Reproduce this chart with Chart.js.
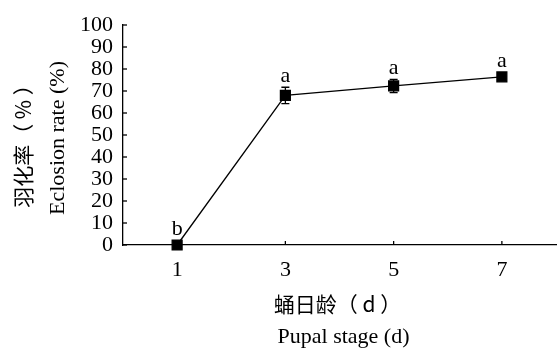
<!DOCTYPE html>
<html>
<head>
<meta charset="utf-8">
<script src="https://cdn.jsdelivr.net/npm/chart.js@4/dist/chart.umd.min.js"></script>
<style>
  html, body { margin: 0; padding: 0; background: #fff; }
  #wrap { width: 557px; height: 354px; }
</style>
</head>
<body>
<div id="wrap"><canvas id="eclosionChart"></canvas></div>
<script>
// Data
const stages = [1, 3, 5, 7];
const eclosionRate = [0, 68.0, 72.3, 76.4];
const errorRate = [0, 3.7, 3.0, 1.0];
const sigLetters = ['b', 'a', 'a', 'a'];
const yTicks = [0, 10, 20, 30, 40, 50, 60, 70, 80, 90, 100];

const serif = "'Liberation Serif', 'Times New Roman', serif";
const cjk = "'Noto Sans CJK SC', 'Liberation Serif', sans-serif";

// Error bars, letters, inward ticks and axis titles
const decorPlugin = {
    id: 'decor',
    afterDatasetsDraw(chart) {
        const ctx = chart.ctx;
        const xs = chart.scales.x;
        const ys = chart.scales.y;
        const area = chart.chartArea;
        ctx.save();
        ctx.strokeStyle = '#000';
        ctx.fillStyle = '#000';
        ctx.lineWidth = 1.3;

        // inward tick marks
        yTicks.forEach(v => {
            const py = ys.getPixelForValue(v);
            ctx.beginPath();
            ctx.moveTo(area.left, py);
            ctx.lineTo(area.left + 4, py);
            ctx.stroke();
        });
        stages.forEach(v => {
            const px = xs.getPixelForValue(v);
            ctx.beginPath();
            ctx.moveTo(px, area.bottom);
            ctx.lineTo(px, area.bottom - 4);
            ctx.stroke();
        });

        // error bars and significance letters
        stages.forEach((s, i) => {
            const px = xs.getPixelForValue(s);
            const pm = ys.getPixelForValue(eclosionRate[i]);
            const hi = ys.getPixelForValue(eclosionRate[i] + errorRate[i]);
            const lo = ys.getPixelForValue(Math.max(0, eclosionRate[i] - errorRate[i]));
            if (errorRate[i] > 0) {
                ctx.beginPath();
                ctx.moveTo(px, hi); ctx.lineTo(px, lo);
                ctx.moveTo(px - 4, hi); ctx.lineTo(px + 4, hi);
                ctx.moveTo(px - 4, lo); ctx.lineTo(px + 4, lo);
                ctx.stroke();
            }
            const top = Math.min(hi, pm - 5);
            ctx.font = '22px ' + serif;
            ctx.textAlign = 'center';
            ctx.textBaseline = 'alphabetic';
            ctx.fillText(sigLetters[i], px, top - 5);
        });

        // axis titles
        ctx.textAlign = 'center';
        ctx.textBaseline = 'middle';
        const cx = (area.left + area.right) / 2;
        ctx.font = '21px ' + cjk;
        ctx.fillText('蛹日龄（ d ）', cx - 2, 304);
        ctx.font = '22px ' + serif;
        ctx.fillText('Pupal stage (d)', cx + 4, 337);

        ctx.translate(23, 141);
        ctx.rotate(-Math.PI / 2);
        ctx.font = '21px ' + cjk;
        ctx.fillText('羽化率（ % ）', 0, 0);
        ctx.restore();

        ctx.save();
        ctx.font = '22px ' + serif;
        ctx.textAlign = 'center';
        ctx.textBaseline = 'middle';
        ctx.translate(58, 138);
        ctx.rotate(-Math.PI / 2);
        ctx.fillText('Eclosion rate (%)', 0, 0);
        ctx.restore();
    }
};

const ctx = document.getElementById('eclosionChart').getContext('2d');
new Chart(ctx, {
    type: 'line',
    data: {
        datasets: [{
            data: stages.map((s, i) => ({ x: s, y: eclosionRate[i] })),
            borderColor: '#000',
            backgroundColor: '#000',
            borderWidth: 1.3,
            pointStyle: 'rect',
            pointRadius: 7,
            pointHoverRadius: 7,
            tension: 0,
            clip: false
        }]
    },
    options: {
        responsive: true,
        maintainAspectRatio: false,
        animation: false,
        events: [],
        layout: { autoPadding: false, padding: { top: 25, right: 1, left: 0, bottom: 0 } },
        plugins: {
            legend: { display: false },
            tooltip: { enabled: false }
        },
        scales: {
            x: {
                type: 'linear',
                min: 0,
                max: 8,
                afterBuildTicks: scale => {
                    scale.ticks = stages.map(v => ({ value: v }));
                },
                afterFit: scale => {
                    scale.height = 109;
                    scale.paddingLeft = 0;
                    scale.paddingRight = 0;
                },
                grid: { display: true, drawOnChartArea: false, drawTicks: false },
                border: { display: true, color: '#000', width: 1.3 },
                ticks: {
                    color: '#000',
                    padding: 12,
                    autoSkip: false,
                    maxRotation: 0,
                    font: { family: serif, size: 22 }
                }
            },
            y: {
                min: 0,
                max: 100,
                afterBuildTicks: scale => {
                    scale.ticks = yTicks.map(v => ({ value: v }));
                },
                afterFit: scale => {
                    scale.width = 123;
                    scale.paddingTop = 0;
                    scale.paddingBottom = 0;
                },
                grid: { display: true, drawOnChartArea: false, drawTicks: false },
                border: { display: true, color: '#000', width: 1.3 },
                ticks: {
                    color: '#000',
                    padding: 10,
                    autoSkip: false,
                    font: { family: serif, size: 22 }
                }
            }
        }
    },
    plugins: [decorPlugin]
});
</script>
</body>
</html>
